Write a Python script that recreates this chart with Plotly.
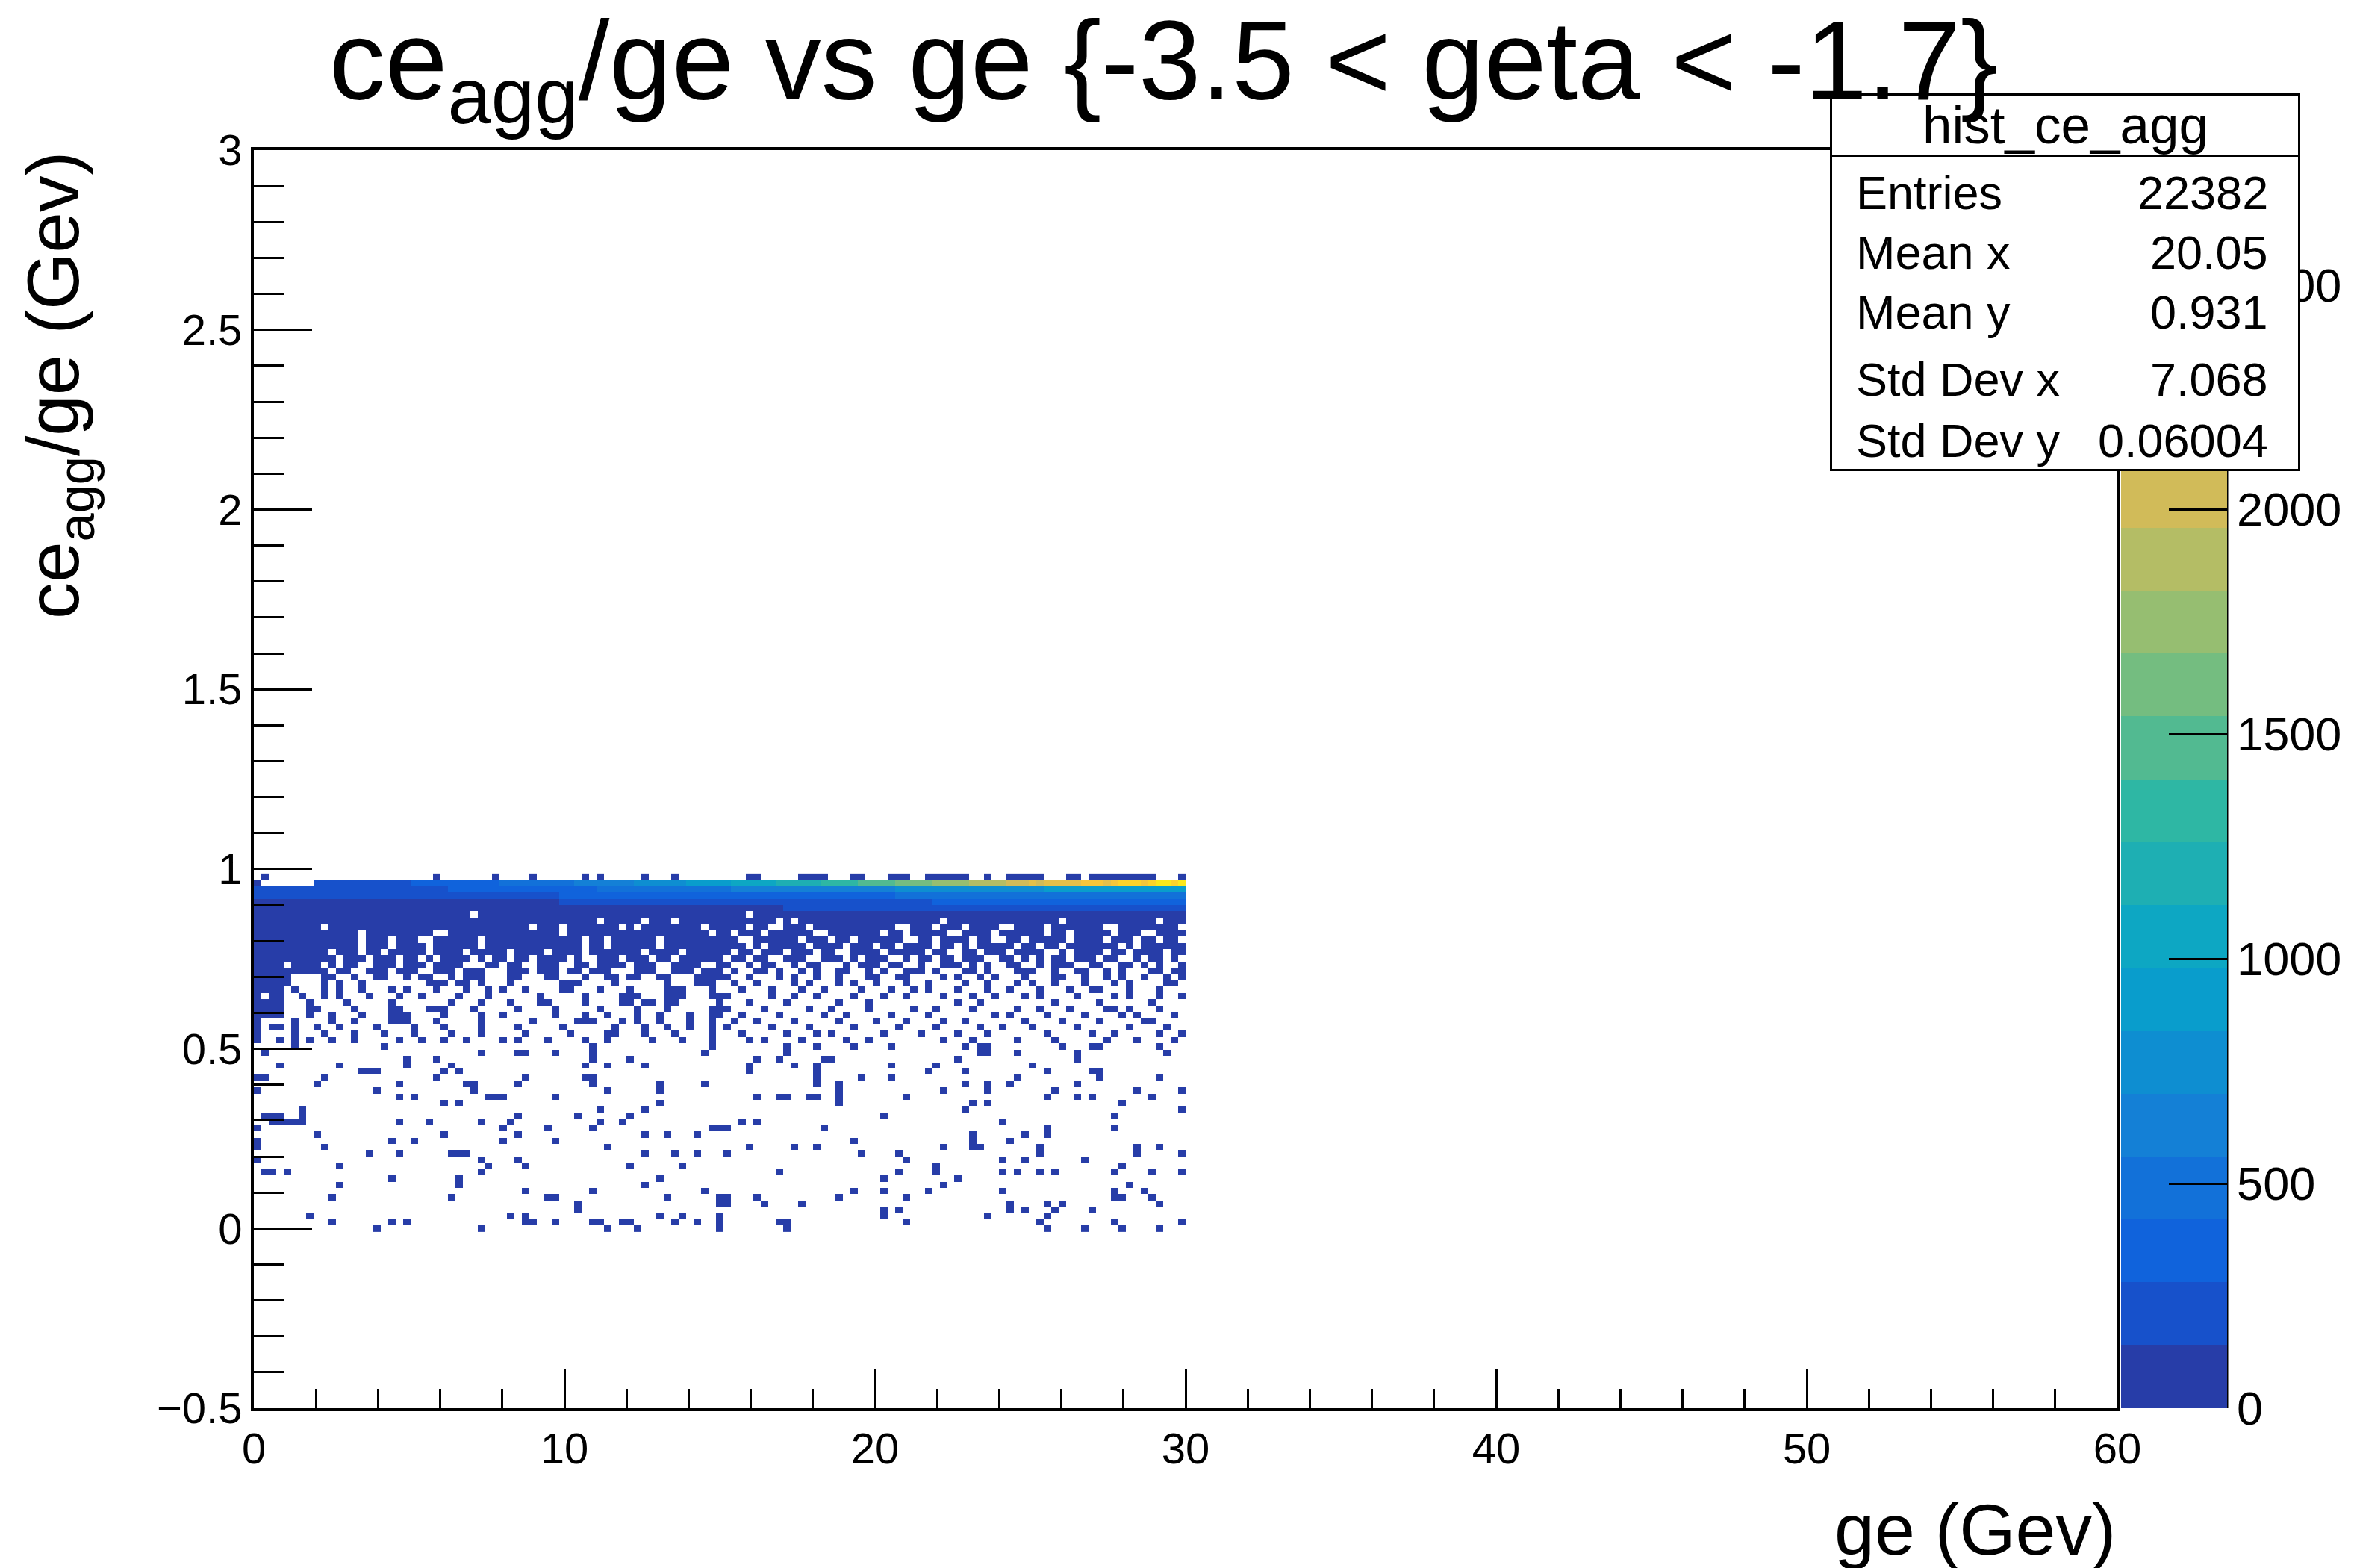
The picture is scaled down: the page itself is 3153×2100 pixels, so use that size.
import numpy as np
import plotly.graph_objects as go

# ---------------- histogram definition (ROOT TH2: 250 x-bins 0..60, 200 y-bins -0.5..3) ----------
X_BIN = 0.24
Y_BIN = 0.0175
Y_LOW = -0.5
K_FIRST = 28      # first y-bin index holding data
K_LAST = 84       # last y-bin index holding data
N_XBINS = 125     # x-bins holding data (0..30 GeV)
Z_MAX = 2800
N_LEVELS = 20
RIGHT_J0 = 63     # first x-bin of the right-half row patterns

# sparse rows: y-bin index -> x-bin indices of filled (lowest level) cells
SPARSE_ROWS = {
    28: [16, 30, 47, 51, 62, 71, 106, 111, 116, 121],
    29: [10, 18, 20, 36, 37, 40, 45, 46, 49, 50, 56, 59, 62, 70, 71, 87, 105, 115, 124],
    30: [7, 34, 36, 54, 57, 62, 84, 98, 106],
    31: [43, 84, 86, 101, 103, 107, 112],
    32: [43, 62, 63, 68, 73, 101, 106, 108, 121],
    33: [10, 26, 39, 40, 55, 62, 63, 67, 78, 87, 115, 116, 120],
    34: [36, 45, 60, 80, 84, 90, 100, 115, 119],
    35: [11, 27, 52, 92, 117],
    36: [18, 27, 54, 84, 94],
    37: [1, 2, 4, 30, 70, 86, 91, 100, 102, 105, 107, 115, 120, 124],
    38: [11, 31, 36, 50, 57, 91, 116],
    39: [0, 30, 35, 87, 100, 103, 111],
    40: [15, 19, 26, 27, 28, 52, 56, 59, 63, 81, 86, 105, 118, 124],
    41: [0, 9, 47, 66, 72, 75, 92, 96, 97, 105, 118, 121],
    42: [0, 18, 21, 33, 40, 80, 96, 101],
    43: [8, 25, 35, 52, 55, 59, 96, 103, 106],
    44: [0, 33, 39, 45, 61, 62, 63, 76, 106, 115],
    45: [2, 3, 4, 5, 6, 19, 23, 30, 34, 46, 49, 65, 67, 100],
    46: [1, 2, 3, 6, 35, 43, 50, 84, 115],
    47: [6, 46, 52, 95, 124],
    48: [25, 27, 54, 78, 96, 98, 116],
    49: [19, 21, 31, 32, 33, 40, 67, 70, 71, 74, 75, 78, 87, 106, 110, 112, 120],
    50: [0, 16, 29, 47, 54, 78, 92, 98, 107, 118, 124],
    51: [8, 19, 28, 29, 35, 45, 54, 60, 75, 78, 95, 98, 101, 110],
    52: [0, 1, 9, 24, 36, 44, 45, 75, 81, 85, 102, 113, 121],
    53: [14, 15, 16, 25, 27, 66, 75, 90, 95, 106, 112, 113],
    54: [3, 11, 20, 26, 44, 47, 52, 66, 72, 75, 85, 91, 104],
    55: [20, 24, 45, 50, 67, 70, 76, 77, 94, 110],
    56: [1, 30, 35, 36, 40, 45, 60, 71, 97, 98, 102, 110, 122],
    57: [5, 17, 45, 61, 71, 75, 80, 85, 95, 97, 98, 108, 112, 113, 121],
    58: [0, 3, 5, 7, 10, 13, 19, 22, 25, 28, 33, 35, 39, 44, 47, 53, 57, 61, 66, 68, 73, 79, 82, 92, 96,
         102, 107, 114, 118, 123],
    59: [0, 5, 9, 13, 17, 21, 26, 30, 36, 42, 47, 48, 52, 56, 61, 65, 71, 75, 77, 84, 89, 94, 98, 106,
         112, 115, 121, 124],
    60: [0, 2, 3, 5, 8, 11, 16, 21, 25, 30, 35, 41, 48, 52, 55, 58, 61, 63, 69, 74, 80, 86, 91, 97, 100,
         104, 110, 117, 122],
    61: [0, 5, 10, 13, 18, 19, 20, 24, 30, 37, 43, 44, 45, 49, 51, 54, 58, 61, 64, 67, 72, 78, 83, 87, 92,
         95, 103, 108, 113, 119, 120],
    62: [0, 1, 2, 3, 7, 10, 14, 18, 19, 20, 25, 30, 33, 40, 44, 47, 51, 54, 58, 61, 62, 65, 70, 76, 79, 85,
         90, 99, 101, 106, 111, 116, 118, 123],
    63: [0, 1, 2, 3, 7, 8, 13, 18, 19, 23, 24, 25, 29, 35, 40, 46, 51, 55, 61, 62, 63, 68, 74, 77, 82, 88,
         91, 96, 102, 105, 109, 114, 115, 117, 121],
    64: [0, 1, 2, 3, 7, 12, 18, 26, 30, 34, 38, 39, 44, 49, 50, 52, 53, 55, 56, 62, 66, 71, 78, 82, 94, 97,
         107, 113, 120],
    65: [0, 2, 3, 6, 9, 11, 15, 19, 22, 27, 31, 38, 44, 49, 50, 51, 55, 56, 57, 61, 62],
    66: [0, 1, 2, 3, 5, 9, 11, 14, 18, 20, 24, 28, 31, 33, 36, 41, 42, 46, 50, 55, 56, 57, 61],
    67: [0, 1, 2, 3, 4, 9, 11, 14, 23, 24, 25, 27, 28, 30, 34, 41, 42, 43, 48, 55, 59, 60, 61],
    68: [0, 1, 2, 3, 4, 9, 10, 13, 16, 17, 20, 22, 23, 26, 28, 29, 30, 34, 35, 39, 40, 44, 47, 48, 50, 51,
         54, 55, 59, 60, 61, 62],
    69: [0, 1, 2, 3, 4, 5, 6, 7, 8, 9, 11, 12, 15, 16, 17, 19, 20, 21, 24, 25, 26, 28, 29, 30, 34, 35, 36,
         38, 39, 40, 42, 43, 45, 46, 47, 51, 52, 53, 56, 57, 58, 60, 61, 62],
    70: [0, 1, 2, 3, 5, 6, 7, 8, 10, 12, 13, 16, 17, 18, 20, 21, 22, 24, 25, 26, 27, 31, 32, 34, 35, 38,
         39, 40, 43, 44, 46, 47, 48, 49, 51, 52, 53, 56, 57, 58, 59, 62],
    71: [0, 1, 2, 3, 4, 5, 6, 7, 8, 9, 10, 12, 13, 14, 16, 17, 18, 20, 21, 23, 25, 26, 27, 28, 30, 32, 33,
         35, 36, 38, 39, 40, 41, 43, 46, 47, 48, 50, 51, 52, 54, 55, 57, 58, 59, 60, 61, 62],
    72: [0, 1, 2, 3, 4, 5, 6, 7, 8, 9, 11, 12, 13, 15, 16, 18, 19, 20, 21, 22, 24, 25, 26, 27, 29, 30, 31,
         32, 33, 35, 36, 37, 38, 40, 41, 42, 43, 45, 46, 47, 48, 49, 50, 51, 53, 54, 55, 56, 58, 59, 60, 61,
         62],
    84: [1, 24, 32, 37, 44, 46, 52, 56, 66, 67, 73, 74, 75, 76, 80, 81, 85, 86, 87, 90, 91, 92, 93, 94, 95,
         98, 101, 102, 103, 104, 105, 109, 110, 112, 113, 114, 115, 116, 117, 118, 119, 120, 124],
}

# dense rows (left half): every x-bin filled except the listed empty ones
HOLE_ROWS = {
    73: [14, 18, 23, 30, 44, 47, 54],
    74: [14, 18, 22, 23, 30, 44, 47, 54],
    75: [14, 24, 25, 41, 61],
    76: [9, 37, 41, 49, 51, 60],
    77: [46, 52, 56, 70, 72, 92, 108, 121],
    78: [29, 66],
}

# right half (x-bins 63..124) of the transition rows: '#' filled, '.' empty
RIGHT_PATTERNS = {
    76: "###.##..##" "#.########" "###..###.#" "##.####..#" "###.######" "#..#######" "#.",
    75: "#.###.####" "##..######" "#.##.#####" "..####.###" "###.##.###" "##.###..##" "##",
    74: "##..######" ".###.##.##" "####..##.#" "###.##..##" ".#####.###" "#.###.##.#" "#.",
    73: "###.#.####" "#.####.###" ".##.####.#" "#.#.#####." "##.##.####" "###.#.####" "##",
    72: "#.##.###.#" "##.##..###" "#.#####.##" "..##.###.#" "###..#.###" "#.##.####." "##",
    71: ".##.##..##" "#..###.#.#" "##..#.##.#" "#.###..##." "#.#.##.###" ".##..#.##." "#.",
    70: "#..#.##..#" ".##...#.##" "#.##..#..#" "##.#.#..##" "..#.###..#" "#..##.#.#." ".#",
    69: ".#..##.#.." "#.#..##..#" ".#..###.#." "..##.#...#" "##..#..##." ".#.#...##." "##",
    68: "#..#...#.#" "..#..#...#" "#..##....#" ".#..#.#..." "#...##..#." ".#.#..#..#" ".#",
    67: ".#..#....#" ".#...#.#.." "#...#..#.." "..#..#...#" ".#..#...#." "..#.#....#" "#.",
    66: "..#...#..." "#..#....#." "..#..#.#.." ".#...#..#." "..#...#..#" "#...#...#." "..",
    65: "#.....#..#" "..#....#.." ".#..#....#" "...#..#..." "#.#....#.." "..#.#...#." ".#",
}

# top band rows: colour level (base-36 digit, '.' = empty) run-lengths along x
LEVEL_RUNS = {
    79: [("0", 71), ("1", 54)],
    80: [("0", 41), ("1", 50), ("2", 34)],
    81: [("1", 41), ("2", 45), ("3", 39)],
    82: [("1", 26), ("2", 20), ("3", 18), ("4", 22), ("5", 20), ("6", 19)],
    83: [("0", 1), (".", 7), ("1", 13), ("2", 12), ("3", 10), ("4", 8), ("5", 7), ("6", 6), ("7", 6),
         ("8", 6), ("9", 5), ("a", 5), ("b", 5), ("c", 5), ("d", 5), ("e", 3), ("f", 1), ("e", 1),
         ("f", 5), ("g", 3), ("f", 1), ("g", 1), ("h", 3), ("g", 1), ("h", 1), ("i", 2), ("h", 1), ("i", 1)],
}

STATS_LABELS = ["Entries", "Mean x", "Mean y", "Std Dev x", "Std Dev y"]
STATS_VALUES = ["22382", "20.05", "0.931", "7.068", "0.06004"]
STATS_NAME = "hist_ce_agg"
CB_TICKS = [0, 500, 1000, 1500, 2000, 2500]
X_TICKS = [0, 10, 20, 30, 40, 50, 60]
Y_TICKS = [-0.5, 0, 0.5, 1, 1.5, 2, 2.5, 3]

# ---------------- build z matrix ----------------
n_rows = K_LAST - K_FIRST + 1
z = [[None] * N_XBINS for _ in range(n_rows)]
step = Z_MAX / N_LEVELS


def put(k, j, lev):
    z[k - K_FIRST][j] = (lev + 0.5) * step


for k, cols in SPARSE_ROWS.items():
    for j in cols:
        put(k, j, 0)
for k, holes in HOLE_ROWS.items():
    for j in range(N_XBINS):
        if j not in holes:
            put(k, j, 0)
for k, pat in RIGHT_PATTERNS.items():
    for i, ch in enumerate(pat):
        j = RIGHT_J0 + i
        if j >= N_XBINS:
            break
        if ch == "#":
            put(k, j, 0)
        else:
            z[k - K_FIRST][j] = None
for k, runs in LEVEL_RUNS.items():
    j = 0
    for ch, n in runs:
        for _ in range(n):
            if ch != ".":
                put(k, j, int(ch, 36))
            j += 1

xc = [(j + 0.5) * X_BIN for j in range(N_XBINS)]
yc = [Y_LOW + (k + 0.5) * Y_BIN for k in range(K_FIRST, K_LAST + 1)]

# ---------------- ROOT kBird palette, 20 discrete contours ----------------
st = [0.0, 0.125, 0.25, 0.375, 0.5, 0.625, 0.75, 0.875, 1.0]
rr = [0.2082, 0.0592, 0.0780, 0.0232, 0.1802, 0.5301, 0.8186, 0.9956, 0.9764]
gg = [0.1664, 0.3599, 0.5041, 0.6419, 0.7178, 0.7492, 0.7328, 0.7862, 0.9832]
bb = [0.5293, 0.8684, 0.8385, 0.7914, 0.6425, 0.4662, 0.3499, 0.1968, 0.0539]
cs = []
for i in range(N_LEVELS):
    f = int((i + 0.99) * 255 / N_LEVELS) / 254.0
    col = "rgb(%d,%d,%d)" % (round(255 * np.interp(f, st, rr)), round(255 * np.interp(f, st, gg)),
                             round(255 * np.interp(f, st, bb)))
    cs.append([i / N_LEVELS, col])
    cs.append([(i + 1) / N_LEVELS, col])

# ---------------- figure ----------------
W, H = 3153, 2100
L, R, T, B = 340, 317, 201, 214
PW, PH = W - L - R, H - T - B


def px(xp):
    return (xp - L) / PW


def py(yp):
    return (H - B - yp) / PH


FONT = "Liberation Sans, Arial, Helvetica, sans-serif"

fig = go.Figure()
fig.add_trace(go.Heatmap(
    x=xc, y=yc, z=z, zmin=0, zmax=Z_MAX, colorscale=cs, hoverongaps=False,
    colorbar=dict(thickness=142, thicknessmode="pixels", len=1, lenmode="fraction",
                  x=px(2841), xanchor="left", xpad=0, y=0.5, yanchor="middle", ypad=0,
                  outlinewidth=0, ticks="inside", ticklen=78, tickwidth=3, tickcolor="black",
                  tickvals=CB_TICKS, tickfont=dict(family=FONT, size=63, color="black")),
))

axis_common = dict(showline=True, linecolor="black", linewidth=4, mirror=True, showgrid=False,
                   zeroline=False, ticks="inside", tickcolor="black", tickwidth=3,
                   tickfont=dict(family=FONT, size=58, color="black"))
fig.update_xaxes(range=[0, 60], tickvals=X_TICKS, ticklen=52,
                 minor=dict(dtick=2, ticks="inside", ticklen=26, tickwidth=3, tickcolor="black"),
                 **axis_common)
fig.update_yaxes(range=[-0.5, 3], tickvals=Y_TICKS, ticklen=78,
                 minor=dict(dtick=0.1, ticks="inside", ticklen=40, tickwidth=3, tickcolor="black"),
                 **axis_common)

# colour bar right edge line
fig.add_shape(type="line", xref="paper", yref="paper", x0=px(2983), x1=px(2983), y0=0, y1=1,
              line=dict(color="black", width=3))

ann = []
# stats box
ann.append(dict(xref="paper", yref="paper", x=px(2766), y=py(378), xanchor="center", yanchor="middle",
                text=" ", showarrow=False, width=624, height=500, bgcolor="white",
                bordercolor="black", borderwidth=3, borderpad=0))
ann.append(dict(xref="paper", yref="paper", x=px(2766), y=py(168), xanchor="center", yanchor="middle",
                text=" ", showarrow=False, width=624, height=79, bgcolor="white",
                bordercolor="black", borderwidth=3, borderpad=0))
ann.append(dict(xref="paper", yref="paper", x=px(2766), y=py(168), xanchor="center", yanchor="middle",
                text=STATS_NAME, showarrow=False, font=dict(family=FONT, size=71, color="black")))
row_y = [258, 338, 418, 508, 590]
for lab, val, yy in zip(STATS_LABELS, STATS_VALUES, row_y):
    ann.append(dict(xref="paper", yref="paper", x=px(2484), y=py(yy), xanchor="left", yanchor="middle",
                    text=lab, showarrow=False, font=dict(family=FONT, size=63, color="black")))
    ann.append(dict(xref="paper", yref="paper", x=px(3040), y=py(yy), xanchor="right", yanchor="middle",
                    text=val, showarrow=False, font=dict(family=FONT, size=63, color="black")))
# main title
ann.append(dict(xref="paper", yref="paper", x=px(1558), y=py(92), xanchor="center", yanchor="middle",
                text="ce<sub>agg</sub>/ge vs ge {-3.5 &lt; geta &lt; -1.7}", showarrow=False,
                font=dict(family=FONT, size=150, color="black")))
# axis titles
ann.append(dict(xref="paper", yref="paper", x=1, y=py(2048), xanchor="right", yanchor="middle",
                text="ge (Gev)", showarrow=False, font=dict(family=FONT, size=97, color="black")))
ann.append(dict(xref="paper", yref="paper", x=px(78), y=1, xanchor="center", yanchor="top",
                text="ce<sub>agg</sub>/ge (Gev)", textangle=-90, showarrow=False,
                font=dict(family=FONT, size=98, color="black")))

fig.update_layout(width=W, height=H, margin=dict(l=L, r=R, t=T, b=B, autoexpand=False),
                  paper_bgcolor="white", plot_bgcolor="white", annotations=ann, showlegend=False)

fig.write_html("out.html")
